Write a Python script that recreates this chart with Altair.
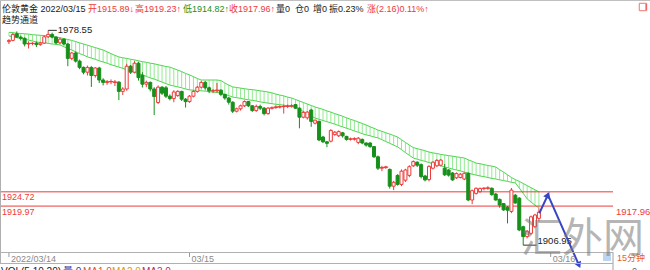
import altair as alt
import pandas as pd

# ---------------- data (15-minute bars, London gold) ----------------
opens = [1974.8,1975.2,1977.4,1976.3,1975.9,1974.0,1974.2,1974.3,1973.8,1974.3,
 1976.4,1977.2,1976.3,1974.4,1975.6,1974.0,1969.2,1971.0,1968.3,1966.2,
 1964.6,1966.2,1963.5,1966.0,1962.0,1961.2,1961.4,1961.2,1961.3,1958.2,
 1959.0,1966.6,1964.6,1967.6,1963.6,1960.6,1961.2,1959.0,1954.5,1959.6,
 1959.4,1956.6,1955.8,1956.8,1958.2,1955.6,1954.8,1956.6,1958.2,1959.6,
 1961.2,1959.4,1958.4,1958.4,1958.6,1957.2,1956.0,1954.6,1951.6,1952.4,
 1953.4,1954.8,1953.4,1951.8,1953.2,1952.6,1950.8,1952.6,1952.8,1953.0,
 1953.1,1953.2,1953.3,1953.8,1952.6,1949.6,1949.4,1952.0,1947.6,1948.2,
 1943.0,1941.4,1941.6,1943.8,1943.4,1944.4,1943.2,1942.3,1942.3,1941.2,
 1942.2,1941.0,1941.0,1939.8,1936.4,1932.6,1932.8,1932.2,1926.6,1930.2,
 1927.2,1928.6,1930.2,1933.4,1934.6,1933.8,1930.0,1928.8,1932.6,1933.4,
 1933.6,1932.6,1932.0,1931.0,1929.4,1929.5,1929.0,1930.9,1922.0,1924.2,
 1924.8,1925.8,1925.9,1925.9,1924.0,1922.2,1920.8,1919.6,1918.2,1923.6,
 1922.6,1913.1,1909.8,1910.9,1913.1,1915.89]
highs = [1975.6,1977.6,1978.2,1976.8,1976.2,1974.9,1974.6,1974.8,1974.7,1976.9,
 1978.55,1977.8,1976.6,1976.1,1975.9,1974.3,1971.4,1971.5,1968.8,1966.5,
 1966.8,1966.6,1966.3,1966.4,1962.6,1962.0,1962.2,1962.0,1961.6,1959.6,
 1967.4,1967.0,1968.3,1968.0,1964.6,1961.8,1961.5,1959.6,1960.2,1960.0,
 1960.0,1957.2,1958.6,1958.6,1958.4,1956.0,1957.0,1958.6,1960.0,1961.6,
 1961.6,1959.8,1959.0,1961.0,1958.9,1957.4,1956.4,1954.9,1952.8,1953.8,
 1955.2,1955.0,1953.6,1953.8,1953.8,1953.0,1953.0,1953.2,1953.6,1953.6,
 1953.8,1953.8,1953.9,1954.0,1952.9,1951.6,1951.6,1952.4,1948.8,1948.5,
 1943.4,1941.6,1945.6,1945.0,1945.2,1944.7,1943.4,1942.8,1942.9,1943.0,
 1942.5,1941.2,1941.3,1940.0,1936.8,1933.4,1933.4,1932.5,1928.4,1930.6,
 1932.2,1932.4,1933.6,1935.2,1934.9,1934.2,1930.4,1933.6,1934.9,1935.6,
 1935.6,1934.0,1932.3,1931.3,1931.2,1931.0,1931.2,1931.2,1925.5,1926.2,
 1926.2,1926.3,1926.6,1926.2,1924.3,1922.5,1921.0,1920.0,1926.0,1924.0,
 1923.0,1913.4,1912.0,1916.8,1917.4,1919.23]
lows = [1974.0,1974.9,1976.0,1975.2,1973.2,1972.5,1973.6,1973.0,1973.4,1974.0,
 1976.0,1975.9,1973.9,1974.0,1973.6,1966.6,1968.6,1967.8,1965.6,1963.9,
 1963.5,1959.7,1962.8,1961.0,1960.2,1960.4,1960.6,1960.0,1955.3,1957.0,
 1958.4,1964.0,1964.2,1961.8,1959.5,1959.6,1958.2,1950.3,1954.0,1957.0,
 1956.0,1955.2,1954.6,1956.4,1955.0,1952.8,1954.4,1956.2,1957.8,1959.2,
 1958.8,1957.6,1957.6,1957.8,1956.6,1955.4,1953.8,1951.0,1951.2,1951.8,
 1953.0,1953.0,1951.4,1951.4,1952.0,1950.2,1950.4,1952.2,1952.4,1952.5,
 1950.8,1952.6,1952.8,1952.4,1945.9,1949.2,1948.8,1946.4,1947.2,1941.6,
 1941.0,1939.6,1941.2,1943.4,1943.0,1942.8,1941.8,1941.8,1941.8,1940.6,
 1940.6,1939.8,1939.4,1936.0,1932.0,1931.6,1932.4,1925.8,1925.3,1926.8,
 1926.6,1928.0,1929.6,1933.0,1933.0,1929.2,1928.2,1928.2,1932.2,1933.0,
 1933.2,1930.0,1929.8,1928.4,1929.0,1929.2,1928.6,1921.6,1920.6,1923.8,
 1924.4,1925.2,1925.4,1923.4,1921.8,1919.4,1918.4,1914.2,1917.6,1920.8,
 1911.6,1906.95,1909.2,1910.4,1912.6,1914.82]
closes = [1975.2,1977.2,1976.3,1975.9,1974.0,1974.2,1974.2,1973.8,1974.3,1976.4,
 1977.2,1976.3,1974.4,1975.6,1974.0,1969.2,1971.0,1968.3,1966.2,1964.6,
 1966.2,1963.5,1966.0,1962.0,1961.2,1961.4,1961.5,1961.3,1958.2,1959.0,
 1966.6,1964.6,1967.6,1962.8,1960.6,1961.2,1959.0,1956.5,1959.6,1957.6,
 1956.6,1955.8,1958.0,1958.2,1955.6,1954.8,1956.6,1958.2,1959.6,1961.2,
 1959.4,1958.4,1958.4,1958.6,1957.2,1956.0,1954.6,1951.6,1952.4,1953.4,
 1954.8,1953.4,1951.8,1953.2,1952.6,1950.8,1952.6,1952.7,1953.0,1953.1,
 1953.2,1953.3,1953.4,1952.6,1949.6,1951.2,1951.3,1948.2,1948.6,1942.0,
 1941.4,1940.9,1945.2,1944.6,1944.8,1943.4,1942.2,1942.3,1942.4,1942.6,
 1941.0,1940.3,1939.8,1936.4,1932.6,1932.8,1933.0,1926.6,1927.9,1927.2,
 1931.6,1932.0,1933.1,1934.8,1933.6,1929.8,1928.7,1933.2,1934.6,1935.2,
 1935.3,1930.4,1930.3,1928.7,1930.8,1930.6,1930.9,1922.0,1925.1,1925.9,
 1925.8,1925.9,1926.0,1923.8,1922.0,1920.3,1918.7,1918.6,1925.3,1921.0,
 1912.0,1909.8,1911.6,1916.4,1917.0,1917.96]

# trend channel (upper / lower edge per bar)
channel_upper = [1977.9,1977.8,1977.6,1977.5,1977.4,1977.3,1977.1,1977.0,1976.9,1976.8,
 1976.7,1976.5,1976.3,1976.1,1975.8,1975.5,1975.2,1974.8,1974.4,1974.0,
 1973.6,1973.2,1972.8,1972.4,1972.0,1971.4,1970.8,1970.2,1969.7,1969.4,
 1969.2,1968.9,1968.7,1968.4,1968.1,1967.9,1967.6,1967.4,1967.1,1966.8,
 1966.5,1966.3,1965.8,1965.3,1964.8,1964.2,1963.7,1963.1,1962.5,1962.0,
 1962.0,1962.0,1962.0,1962.0,1961.8,1961.0,1960.3,1959.7,1959.5,1959.3,
 1959.1,1958.9,1958.8,1958.6,1958.4,1958.2,1958.0,1957.7,1957.3,1957.0,
 1956.7,1956.3,1956.0,1955.5,1955.0,1954.5,1954.0,1953.5,1953.0,1952.6,
 1952.2,1951.7,1951.3,1950.8,1950.4,1949.9,1949.4,1948.9,1948.5,1948.0,
 1947.5,1947.0,1946.4,1945.9,1945.3,1944.9,1944.4,1944.0,1943.5,1943.0,
 1942.1,1941.2,1940.3,1939.5,1939.1,1938.8,1938.4,1938.0,1937.7,1937.5,
 1937.2,1937.0,1936.8,1936.6,1936.4,1936.2,1936.0,1935.4,1934.9,1934.3,
 1934.1,1933.8,1933.5,1933.3,1933.0,1932.1,1931.3,1930.4,1929.5,1928.8,
 1928.2,1927.5,1926.8,1926.1,1925.4,1924.7]
channel_lower = [1976.7,1976.4,1976.1,1975.9,1975.6,1975.3,1975.0,1974.7,1974.5,1974.4,
 1974.2,1974.0,1973.9,1973.7,1973.1,1972.5,1972.0,1971.4,1970.8,1970.3,
 1969.7,1969.3,1968.9,1968.4,1968.0,1967.6,1967.1,1966.7,1966.3,1965.9,
 1965.4,1965.0,1964.6,1964.1,1963.7,1963.2,1962.7,1962.3,1961.8,1961.3,
 1960.8,1960.3,1960.0,1959.7,1959.4,1959.0,1958.7,1958.6,1958.5,1958.4,
 1958.3,1958.1,1958.0,1957.8,1957.7,1957.2,1956.8,1956.3,1956.1,1955.9,
 1955.6,1955.4,1955.2,1955.0,1954.7,1954.5,1954.3,1954.1,1953.9,1953.8,
 1953.6,1953.4,1953.2,1953.0,1952.3,1951.5,1950.8,1950.0,1949.3,1948.9,
 1948.5,1948.1,1947.7,1947.3,1946.8,1946.4,1945.9,1945.5,1945.0,1944.6,
 1944.1,1943.7,1943.4,1943.0,1942.7,1942.1,1941.5,1940.9,1940.3,1939.7,
 1938.8,1937.8,1936.9,1936.0,1935.6,1935.2,1934.9,1934.5,1934.1,1933.7,
 1933.4,1933.0,1932.7,1932.3,1932.0,1931.7,1931.3,1931.0,1930.6,1930.3,
 1930.0,1929.8,1929.5,1929.2,1929.0,1928.7,1928.5,1928.2,1927.9,1927.7,
 1926.0,1924.2,1922.4,1921.3,1920.3,1919.3]

levels = [1924.72, 1919.97]
level_labels = ["1924.72", "1919.97"]
y_ticks = [1910, 1920, 1930, 1940, 1950, 1960, 1970]
date_labels = ["2022/03/14", "03/15", "03/16"]
date_pos = [0, 46, 138]
hi_idx, hi_val, hi_label = 10, 1978.55, "1978.55"
lo_idx, lo_val, lo_label = 131, 1906.95, "1906.95"
last_close = 1917.96
arrow_i = [135.1, 137.3, 145.2]
arrow_v = [1917.6, 1923.7, 1900.3]
arrow_head_angle = [25, 156]

# ---------------- styling ----------------
RED = "#ee3a3a"
GREEN = "#17901b"
BLUE = "#3746c6"
FONT = "Liberation Sans, Arial, Noto Sans CJK SC, sans-serif"
CJK = "Noto Sans CJK SC, Liberation Sans, sans-serif"

n = len(closes)
df = pd.DataFrame({"i": list(range(n)), "o": opens, "h": highs, "l": lows, "c": closes})
df["dir"] = ["up" if c >= o else "down" for o, c in zip(opens, closes)]
doji = df[(df["c"] - df["o"]).abs() < 0.25]
band = pd.DataFrame({"i": list(range(n)), "u": channel_upper, "lo": channel_lower})

xs = alt.Scale(domain=[-1, 152.6], nice=False, zero=False)
ys = alt.Scale(domain=[1904.667, 1988.667], nice=False, zero=False)
XI = alt.X("i:Q", scale=xs, axis=None)
one = pd.DataFrame({"k": [0]})

dir_dom = ["up", "down"]

def ptext(txt, x, y, color, size=9, align="left", font=FONT, **kw):
    return alt.Chart(one).mark_text(text=txt, align=align, baseline="middle",
                                    fontSize=size, font=font, color=color, **kw
                                    ).encode(x=alt.value(x), y=alt.value(y))

def prule(x, y, x2, y2, color, w=1):
    return alt.Chart(one).mark_rule(color=color, strokeWidth=w).encode(
        x=alt.value(x), y=alt.value(y), x2=alt.value(x2), y2=alt.value(y2))

layers = []

# hatch of trend channel (carries the right axis + grid)
hatch = alt.Chart(band).mark_rule(color="#86e886", strokeWidth=0.9).encode(
    x=XI,
    y=alt.Y("lo:Q", scale=ys, axis=alt.Axis(
        orient="right", values=y_ticks, format=".2f", title=None,
        labelFontSize=9, labelFont=FONT, labelColor="#8a8a8a", labelPadding=1,
        tickColor="#a0a0a0", tickSize=4, domainColor="#a0a0a0",
        grid=True, gridColor="#d8d8d8")),
    y2="u:Q")
layers.append(hatch)
layers.append(alt.Chart(band).mark_line(color="#4fd64f", strokeWidth=1).encode(
    x=XI, y=alt.Y("u:Q", scale=ys, axis=None)))
layers.append(alt.Chart(band).mark_line(color="#4fd64f", strokeWidth=1).encode(
    x=XI, y=alt.Y("lo:Q", scale=ys, axis=None)))

# support / resistance lines
lv = pd.DataFrame({"v": levels, "t": level_labels})
layers.append(alt.Chart(lv).mark_rule(color=RED, strokeWidth=1).encode(
    y=alt.Y("v:Q", scale=ys, axis=None)))
layers.append(alt.Chart(lv).mark_text(align="left", baseline="middle", dy=5.5,
                                      fontSize=9, font=FONT, color=RED).encode(
    x=alt.value(2), y=alt.Y("v:Q", scale=ys, axis=None), text="t:N"))

# candles
layers.append(alt.Chart(df).mark_rule(strokeWidth=1).encode(
    x=XI, y=alt.Y("l:Q", scale=ys, axis=None), y2="h:Q",
    color=alt.Color("dir:N", scale=alt.Scale(domain=dir_dom, range=[RED, GREEN]), legend=None)))
layers.append(alt.Chart(df).mark_bar(size=3, strokeWidth=1).encode(
    x=XI, y=alt.Y("o:Q", scale=ys, axis=None), y2="c:Q",
    fill=alt.Fill("dir:N", scale=alt.Scale(domain=dir_dom, range=["#ffffff", GREEN]), legend=None),
    stroke=alt.Stroke("dir:N", scale=alt.Scale(domain=dir_dom, range=[RED, GREEN]), legend=None)))
layers.append(alt.Chart(doji).mark_tick(orient="horizontal", size=5, thickness=1, color=RED).encode(
    x=XI, y=alt.Y("c:Q", scale=ys, axis=None)))

# extreme annotations
hi = pd.DataFrame({"i": [hi_idx], "i2": [hi_idx + 2.2], "v": [hi_val], "t": [hi_label]})
lo = pd.DataFrame({"i": [lo_idx], "i2": [lo_idx + 3.4], "v": [lo_val], "t": [lo_label]})
for d, dy in ((hi, 0), (lo, -4)):
    layers.append(alt.Chart(d).mark_rule(color="#333333", strokeWidth=1).encode(
        x=XI, x2="i2:Q", y=alt.Y("v:Q", scale=ys, axis=None)))
    layers.append(alt.Chart(d).mark_text(align="left", baseline="middle", dx=1, dy=dy,
                                         fontSize=9.5, font=FONT, color="#222222").encode(
        x=alt.X("i2:Q", scale=xs, axis=None), y=alt.Y("v:Q", scale=ys, axis=None), text="t:N"))

# forecast arrows
ar = pd.DataFrame({"i": arrow_i, "v": arrow_v, "k": [0, 1, 2]})
layers.append(alt.Chart(ar).mark_line(color=BLUE, strokeWidth=2).encode(
    x=XI, y=alt.Y("v:Q", scale=ys, axis=None), order="k:Q"))
heads = pd.DataFrame({"i": arrow_i[1:], "v": arrow_v[1:], "a": arrow_head_angle})
layers.append(alt.Chart(heads).mark_point(shape="triangle-up", filled=True, size=55,
                                          color=BLUE, opacity=1).encode(
    x=XI, y=alt.Y("v:Q", scale=ys, axis=None), angle=alt.Angle("a:Q", scale=None)))

# frame and time band
layers.append(prule(0.5, 0, 0.5, 263, "#b0b0b0"))
layers.append(prule(0, 0.5, 650, 0.5, "#c0c0c0"))
layers.append(prule(613, 252, 613, 270, "#a0a0a0"))
layers.append(prule(0, 252.5, 613, 252.5, "#b0b0b0"))
layers.append(prule(0, 263.5, 613, 263.5, "#b0b0b0"))
dd = pd.DataFrame({"i": date_pos, "t": date_labels})
layers.append(alt.Chart(dd).mark_rule(color="#999999").encode(
    x=XI, y=alt.value(253), y2=alt.value(257)))
layers.append(alt.Chart(dd).mark_text(align="left", baseline="middle", dx=2, fontSize=9,
                                      font=FONT, color="#8a8a8a").encode(
    x=XI, y=alt.value(258.5), text="t:N"))

# header
header = [("伦敦黄金 2022/03/15", "#1a1a1a", 2), ("开1915.89↓", RED, 88),
          ("高1919.23↑", RED, 135), ("低1914.82↑", GREEN, 183),
          ("收1917.96↑", RED, 229), ("量0", "#1a1a1a", 276), ("仓0", "#1a1a1a", 295),
          ("增0", "#1a1a1a", 313), ("振0.23%", "#1a1a1a", 329),
          ("涨(2.16)0.11%↑", RED, 367)]
for t, col, x in header:
    layers.append(ptext(t, x, 8.5, col, size=9))
layers.append(ptext("趋势通道", 2, 20, "#1a1a1a", size=9))

# top-right icon
layers.append(alt.Chart(one).mark_point(shape="square", filled=False, size=55, color=RED,
                                        strokeWidth=1).encode(x=alt.value(643), y=alt.value(7)))
layers.append(prule(646, 4, 646, 10, RED))

# right-side labels
layers.append(alt.Chart(pd.DataFrame({"v": [last_close]})).mark_text(
    align="left", baseline="middle", fontSize=9.5, font=FONT, color=RED).encode(
    x=alt.value(616), y=alt.Y("v:Q", scale=ys, axis=None), text=alt.Text("v:Q", format=".2f")))
layers.append(alt.Chart(one).mark_rect(color="#bcd6f2").encode(
    x=alt.value(603), x2=alt.value(611), y=alt.value(253), y2=alt.value(261)))
layers.append(ptext("15分钟", 617, 258, "#e6601e", size=9))
layers.append(ptext("0", 632, 271, "#666666", size=9))

# volume panel header (cut off at the bottom)
vol = [("VOL(5,10,20)", "#1a1a1a", 1), ("量 0", "#2b38a8", 63), ("MA1 0", "#e8502a", 83),
       ("MA2 0", "#d0a400", 112), ("MA3 0", "#b02a62", 142)]
for t, col, x in vol:
    layers.append(ptext(t, x, 272, col, size=10))

# watermark
layers.append(ptext("汇外网", 521, 240, "#7a7a7a", size=41, font=CJK, opacity=0.55))

chart = alt.layer(*layers).properties(
    width=613, height=252,
    padding={"left": 0, "top": 0, "right": 37, "bottom": 18},
    autosize=alt.AutoSizeParams(type="none"),
    background="white",
).configure_view(stroke=None)

chart.save("out.html", embed_options={"renderer": "svg", "actions": False})
